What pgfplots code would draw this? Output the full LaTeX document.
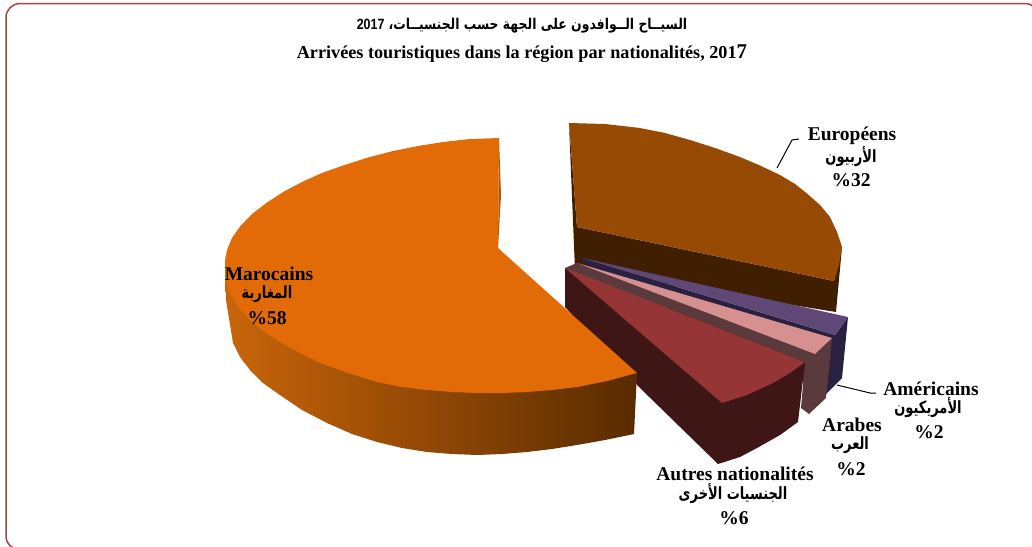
\documentclass[border=0pt]{standalone}
\usepackage{pgfplots}
\pgfplotsset{compat=1.18}
\usepackage{fontspec}
\setmainfont{Liberation Serif}
\newfontfamily\arabicfont[Script=Arabic]{DejaVu Sans}
\newfontfamily\sansf{Liberation Sans}
\TeXXeTstate=1
\definecolor{frame}{HTML}{A04848}
\definecolor{orangetop}{HTML}{E26B08}
\definecolor{orangeL}{HTML}{C9650A}
\definecolor{orangeR}{HTML}{582B00}
\definecolor{orangeedge}{HTML}{A85A08}
\definecolor{browntop}{HTML}{974A04}
\definecolor{brownside}{HTML}{3F1F00}
\definecolor{purpletop}{HTML}{5F4878}
\definecolor{purpleside}{HTML}{2A2140}
\definecolor{pinktop}{HTML}{D79090}
\definecolor{pinkside}{HTML}{5A3A3C}
\definecolor{redtop}{HTML}{953535}
\definecolor{redside}{HTML}{3E1616}
\newcommand{\lab}[1]{{\fontsize{19.5}{21}\selectfont\bfseries #1}}
\newcommand{\ar}[1]{\scalebox{1}[1.3]{\arabicfont\fontsize{13}{15}\selectfont\bfseries\beginR #1\endR}}
\begin{document}
\begin{tikzpicture}[x=1pt,y=1pt]
\useasboundingbox (0,0) rectangle (1032,546);
\begin{axis}[at={(0,0)},anchor=south west,width=1032pt,height=546pt,scale only axis,
  xmin=0,xmax=1032,ymin=0,ymax=546,y dir=reverse,hide axis,clip=false,no markers]
\draw[frame,line width=1.5pt,rounded corners=14pt] (axis cs:6,3.5) rectangle (axis cs:1039,550);
% Europeans
\addplot[draw=none,fill=brownside] coordinates {(569,123)(577,227)(834,281)(842,247)(836,312)(575,270)(569,123)};
\addplot[draw=none,fill=browntop] coordinates {(569,123)(605,124)(640,128)(665,133)(690,140)(715,148)(740,157)(760,165.5)(780,175)(795,184)(807,193.5)(820,205)(830,217)(837,232)(842,247)(839,265)(834,281)(577,227)(569,123)};
% Americans
\addplot[draw=none,fill=purpleside] coordinates {(582,258)(835,335)(848,317)(842,378)(826,394)(800,380)(582,262)(582,258)};
\addplot[draw=none,fill=purpletop] coordinates {(582,258)(848,317)(835,335)(582,258)};
% Arabs
\addplot[draw=none,fill=pinkside] coordinates {(577,263)(815,354)(832,338)(826,398)(809,414)(801,408)(805,362)(565,268)(577,263)};
\addplot[draw=none,fill=pinktop] coordinates {(577,263)(832,338)(815,354)(577,263)};
% Others
\addplot[draw=none,fill=redside] coordinates {(565,268)(565,307)(640,388)(718,464)(740,457)(757,448)(780,435)(798,422)(805,362)(565,268)};
\addplot[draw=none,fill=redtop] coordinates {(565,268)(805,362)(790,373)(773,383)(747,395)(722,403)(565,268)};
% Moroccans
\addplot[draw=none,shade,left color=orangeL,right color=orangeR] coordinates {(225,270)(226,300)(233,343)(240,357)(250,370)(263,383)(277,393)(302,410)(327,423)(352,434)(377,442)(402,448)(427,452)(452,454)(477,455)(502,454)(527,452)(552,449)(577,445)(605,440)(634,434)(637,373)(225,270)};
\addplot[draw=none,fill=orangeedge] coordinates {(499,138)(501,195)(498,248)(499,138)};
\addplot[draw=none,fill=orangetop] coordinates {(499,138)(470,139)(443,142)(418,146)(393,151)(368,157.5)(343,165.5)(322,173)(303,181.5)(284,191.5)(267,202.5)(252,214)(240,226.5)(232,238)(227,250)(225,260)(225,270)(226,282)(230,293)(238,307)(250,320)(263,331)(277,340)(298,352)(320,363)(348,373)(377,382)(402,387)(427,390)(452,392)(477,393)(502,393)(527,392)(552,390)(577,387)(607,381)(637,373)(498,248)(499,138)};
% leaders
\addplot[black,line width=1pt] coordinates {(777,168)(792,140)(799,139)};
\addplot[black,line width=1pt] coordinates {(837,385)(870,393)(876,393)};
% title
\node at (axis cs:522,25.5) {\scalebox{1}[1.2]{\arabicfont\fontsize{12.4}{14}\selectfont\bfseries\beginR السيــاح الــوافدون على الجهة حسب الجنسيــات، \beginL{\sansf 2017}\endL\endR}};
\node at (axis cs:522,53.5) {\fontsize{18.2}{20}\selectfont\bfseries Arrivées touristiques dans la région par nationalités, 201{\fontsize{21}{20}\selectfont 7}};
% labels
\node at (axis cs:852,135.5) {\lab{Européens}};
\node at (axis cs:851,157) {\ar{الأربيون}};
\node at (axis cs:851,180) {\lab{\%32}};
\node at (axis cs:269,273.5) {\lab{Marocains}};
\node at (axis cs:267,294) {\ar{المغاربة}};
\node at (axis cs:267,318) {\lab{\%58}};
\node at (axis cs:931,388.5) {\lab{Américains}};
\node at (axis cs:928,408) {\ar{الأمريكيون}};
\node at (axis cs:929,432) {\lab{\%2}};
\node at (axis cs:852,424.5) {\lab{Arabes}};
\node at (axis cs:850,445) {\ar{العرب}};
\node at (axis cs:851,469) {\lab{\%2}};
\node at (axis cs:735,473.5) {\lab{Autres nationalités}};
\node at (axis cs:733,494) {\ar{الجنسيات الأخرى}};
\node at (axis cs:734,518) {\lab{\%6}};
\end{axis}
\end{tikzpicture}
\end{document}
